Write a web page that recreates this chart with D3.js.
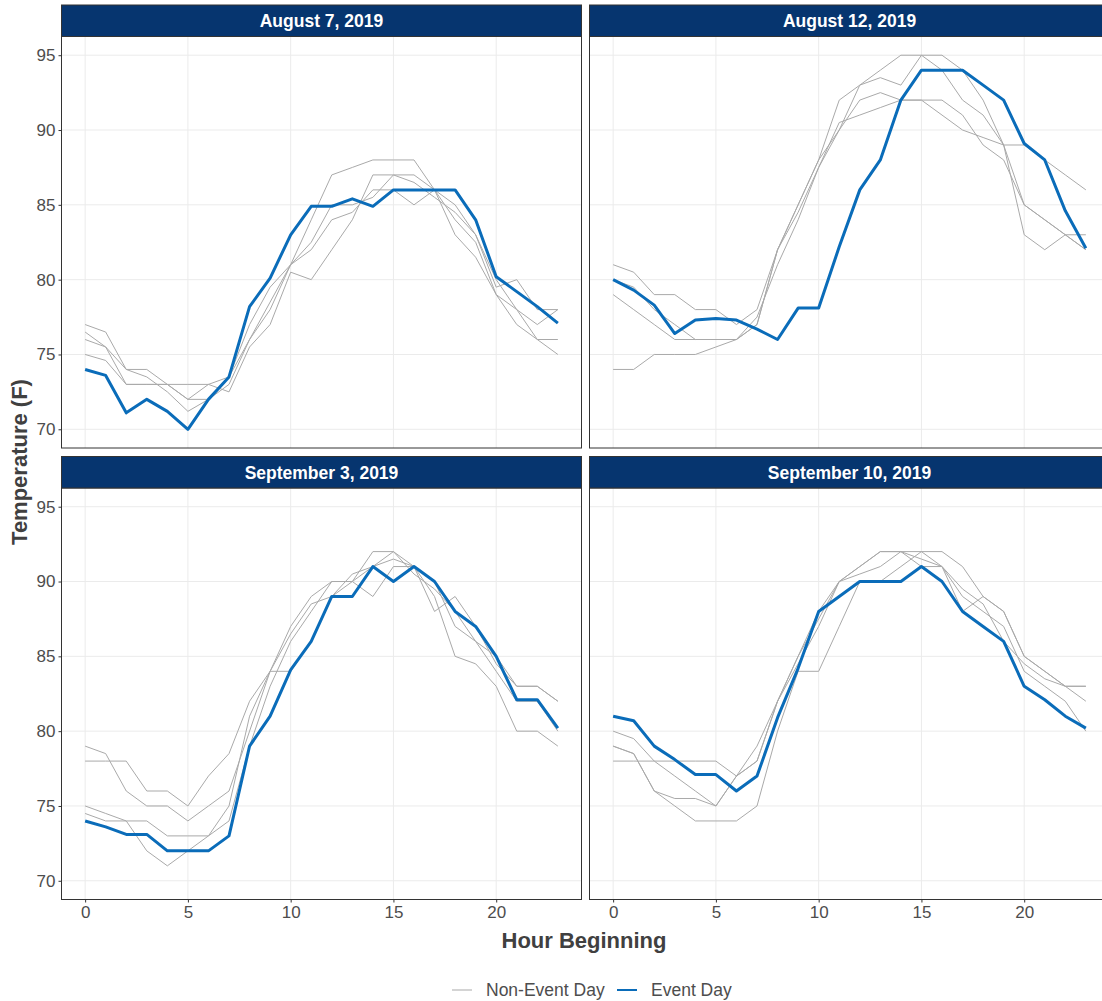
<!DOCTYPE html>
<html>
<head>
<meta charset="utf-8">
<script src="https://cdn.jsdelivr.net/npm/d3@7"></script>
<style>
  body { margin: 0; background: #fff; }
  svg { display: block; font-family: "Liberation Sans", Arial, sans-serif; }
</style>
</head>
<body>
<div id="chart"></div>
<script>
/* Hourly temperature on event days vs. the surrounding non-event days,
   one small multiple per event date. */

const hours = d3.range(0, 24);
const panelTitles = ["August 7, 2019", "August 12, 2019", "September 3, 2019", "September 10, 2019"];
const yTicks = [70, 75, 80, 85, 90, 95];
const xTicks = [0, 5, 10, 15, 20];

// event day temperatures (F) by hour
const eventAug7 = [74, 73.6, 71.1, 72, 71.2, 70, 72, 73.5, 78.2, 80.1, 83, 84.9, 84.9, 85.4, 84.9, 86, 86, 86, 86, 84, 80.2, 79.2, 78.2, 77.1];
const eventAug12 = [80, 79.3, 78.3, 76.4, 77.3, 77.4, 77.3, 76.7, 76, 78.1, 78.1, 82.2, 86, 88, 92, 94, 94, 94, 93, 92, 89.1, 88, 84.6, 82.1];
const eventSep3 = [74, 73.6, 73.1, 73.1, 72, 72, 72, 73, 79, 81, 84.1, 86, 89, 89, 91, 90, 91, 90, 88, 87, 85, 82.1, 82.1, 80.2];
const eventSep10 = [81, 80.7, 79, 78.1, 77.1, 77.1, 76, 77, 80.9, 84.2, 88, 89, 90, 90, 90, 91, 90, 88, 87, 86, 83, 82.1, 81, 80.2];

// comparison (non-event) days
const nonEventAug7 = [
  [77, 76.5, 74, 74, 73, 72, 73, 73.5, 76, 78, 81, 84, 87, 87.5, 88, 88, 88, 86, 83, 81.5, 79, 77, 76, 75],
  [76.5, 75.5, 73, 73, 73, 73, 73, 72.5, 75.5, 77, 80.5, 80, 82, 84, 87, 87, 87, 86, 85, 83, 79.5, 80, 78, 78],
  [76, 75.5, 74, 73.5, 72.5, 71.2, 72, 73, 76, 78.5, 81, 82, 84, 84.5, 86, 86, 85, 86, 84, 82.5, 79, 78, 76, 76],
  [75, 74.6, 73, 73, 73, 72, 72, 73.5, 77, 79.5, 81, 82.5, 85, 85, 85.5, 87, 86.5, 85.5, 84.5, 83, 80, 78, 77, 78]
];
const nonEventAug12 = [
  [81, 80.5, 79, 79, 78, 78, 77, 78, 82, 85, 88, 92, 93, 94, 95, 95, 95, 94, 92, 89, 85, 84, 83, 82],
  [80, 79.5, 78, 77, 76, 76, 76, 77, 82, 85, 88, 90, 93, 93.5, 93, 95, 94, 92, 91, 89, 83, 82, 83, 83],
  [79, 78, 77, 76, 76, 76, 76, 77.5, 81, 84, 87.5, 90.5, 91, 91.5, 92, 92, 92, 91, 89, 88, 85, 84, 83, 82],
  [74, 74, 75, 75, 75, 75.5, 76, 77, 82, 84.5, 87.5, 90, 92, 92.5, 92, 92, 91, 90, 89.5, 89, 89, 88, 87, 86]
];
const nonEventSep3 = [
  [79, 78.5, 76, 75, 75, 74, 75, 76, 80, 84, 87, 89, 90, 90, 92, 92, 91, 88, 89, 87, 84.5, 83, 83, 82],
  [78, 78, 78, 76, 76, 75, 77, 78.5, 82, 84, 84, 86, 89, 90, 89, 91, 91, 90, 87, 86, 85, 83, 83, 82],
  [75, 74.5, 74, 74, 73, 73, 73, 74, 79, 83, 86, 88, 90, 90, 91, 91.5, 91, 89, 85, 84.5, 83, 80, 80, 79],
  [74.5, 74, 74, 72, 71, 72, 73, 75, 81, 84, 86.5, 88.5, 89, 90.5, 91, 92, 90.5, 89.5, 88, 86, 84, 82, 82, 80]
];
const nonEventSep10 = [
  [80, 79.5, 78, 77, 76, 75, 77, 78, 82, 84.5, 87, 90, 91, 92, 92, 91.5, 91, 89, 88, 87, 84, 83, 82, 80],
  [79, 78.5, 76, 75.5, 75.5, 75, 77, 79, 82, 85, 88, 90, 90.5, 91, 92, 92, 92, 91, 89, 88, 85, 84, 83, 82],
  [78, 78, 78, 78, 78, 78, 77, 78, 82, 85, 87.5, 90, 91, 92, 92, 91, 91, 89.5, 88.5, 86, 84.5, 83.5, 83, 83],
  [79, 78.5, 76, 75, 74, 74, 74, 75, 80, 84, 84, 87, 90, 90, 91, 92, 91, 88, 89, 88, 85, 84, 83, 83]
];

const eventSeries = [eventAug7, eventAug12, eventSep3, eventSep10];
const nonEventSeries = [nonEventAug7, nonEventAug12, nonEventSep3, nonEventSep10];

const width = 1102, height = 1001;
const eventColor = "#0a6cb9", nonEventColor = "#a9a9a9", stripColor = "#06356f";

const svg = d3.select("#chart")
  .append("svg")
  .attr("width", width)
  .attr("height", height);

// facet layout (right column runs off the edge of the picture, as in the original)
const panelW = 520;
const colX = [61.5, 589.5];
const rows = [
  { strip: 5, top: 36.5, bottom: 448 },
  { strip: 456.5, top: 488, bottom: 899.5 }
];

const x = d3.scaleLinear().domain([-1.15, 24.15]).range([0, panelW]);

const line = (yScale) => d3.line()
  .x((d, i) => x(hours[i]))
  .y(d => yScale(d));

panelTitles.forEach((title, p) => {
  const col = p % 2, row = Math.floor(p / 2);
  const r = rows[row];
  const ph = r.bottom - r.top;
  const y = d3.scaleLinear().domain([68.75, 96.25]).range([ph, 0]);

  const g = svg.append("g").attr("transform", `translate(${colX[col]},${r.top})`);

  g.append("clipPath").attr("id", "clip" + p)
    .append("rect").attr("width", panelW).attr("height", ph);

  // grid
  g.append("g").selectAll("line.h").data(yTicks).join("line")
    .attr("x1", 0).attr("x2", panelW)
    .attr("y1", d => y(d)).attr("y2", d => y(d))
    .attr("stroke", "#ebebeb").attr("stroke-width", 1);
  g.append("g").selectAll("line.v").data(xTicks).join("line")
    .attr("y1", 0).attr("y2", ph)
    .attr("x1", d => x(d)).attr("x2", d => x(d))
    .attr("stroke", "#ebebeb").attr("stroke-width", 1);

  const lines = g.append("g").attr("clip-path", `url(#clip${p})`);
  lines.selectAll("path.non").data(nonEventSeries[p]).join("path")
    .attr("fill", "none")
    .attr("stroke", nonEventColor)
    .attr("stroke-width", 1)
    .attr("d", line(y));
  lines.append("path")
    .datum(eventSeries[p])
    .attr("fill", "none")
    .attr("stroke", eventColor)
    .attr("stroke-width", 3)
    .attr("stroke-linejoin", "round")
    .attr("d", line(y));

  // border
  g.append("rect").attr("width", panelW).attr("height", ph)
    .attr("fill", "none").attr("stroke", "#333").attr("stroke-width", 1);

  // strip
  svg.append("rect")
    .attr("x", colX[col]).attr("y", r.strip)
    .attr("width", panelW).attr("height", r.top - r.strip)
    .attr("fill", stripColor).attr("stroke", "#333").attr("stroke-width", 1);
  svg.append("text")
    .attr("x", colX[col] + panelW / 2)
    .attr("y", (r.strip + r.top) / 2)
    .attr("dy", "0.36em")
    .attr("text-anchor", "middle")
    .attr("fill", "#fff")
    .attr("font-weight", "bold")
    .attr("font-size", "17.5px")
    .text(title);

  if (col === 0) {
    const ax = g.append("g")
      .call(d3.axisLeft(y).tickValues(yTicks).tickSize(3).tickPadding(3));
    ax.select(".domain").remove();
    ax.selectAll(".tick line").attr("stroke", "#333");
    ax.selectAll(".tick text").attr("fill", "#4d4d4d").attr("font-size", "17px")
      .attr("font-family", "Liberation Sans, Arial, sans-serif");
  }
  if (row === 1) {
    const ax = g.append("g")
      .attr("transform", `translate(0,${ph})`)
      .call(d3.axisBottom(x).tickValues(xTicks).tickSize(3).tickPadding(3));
    ax.select(".domain").remove();
    ax.selectAll(".tick line").attr("stroke", "#333");
    ax.selectAll(".tick text").attr("fill", "#4d4d4d").attr("font-size", "17px")
      .attr("font-family", "Liberation Sans, Arial, sans-serif");
  }
});

// axis titles
svg.append("text")
  .attr("x", 584).attr("y", 948)
  .attr("text-anchor", "middle")
  .attr("font-weight", "bold").attr("font-size", "22px").attr("fill", "#404040")
  .text("Hour Beginning");

svg.append("text")
  .attr("transform", "translate(27,462) rotate(-90)")
  .attr("text-anchor", "middle")
  .attr("font-weight", "bold").attr("font-size", "22px").attr("fill", "#404040")
  .text("Temperature (F)");

// legend
const legendItems = [
  { label: "Non-Event Day", color: nonEventColor, w: 1, x: 452 },
  { label: "Event Day", color: eventColor, w: 2, x: 617 }
];
const legend = svg.append("g").attr("transform", "translate(0,990)");
legend.selectAll("line").data(legendItems).join("line")
  .attr("x1", d => d.x).attr("x2", d => d.x + 20)
  .attr("y1", 0).attr("y2", 0)
  .attr("stroke", d => d.color).attr("stroke-width", d => d.w);
legend.selectAll("text").data(legendItems).join("text")
  .attr("x", d => d.x + 34).attr("y", 0).attr("dy", "0.35em")
  .attr("font-size", "17.5px").attr("fill", "#4d4d4d")
  .text(d => d.label);
</script>
</body>
</html>
